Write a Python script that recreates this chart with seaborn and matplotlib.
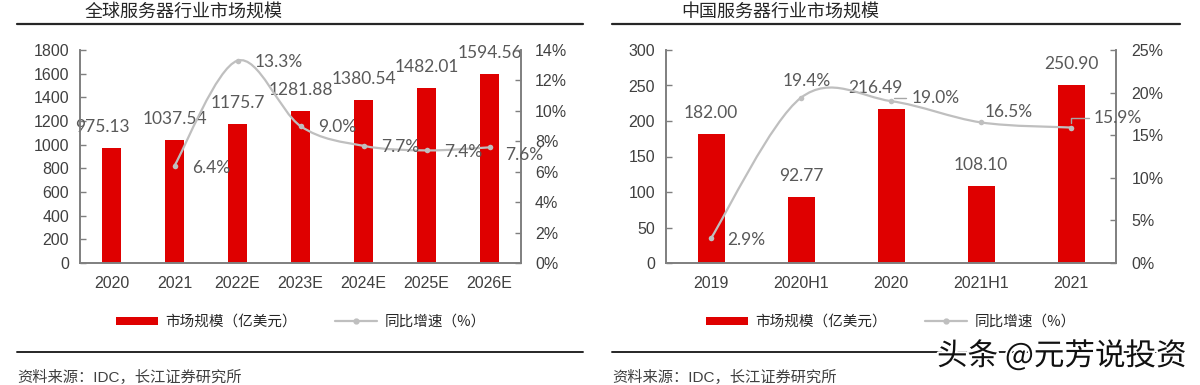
import numpy as np
import pandas as pd
import matplotlib
matplotlib.use("Agg")
import matplotlib.pyplot as plt
import seaborn as sns
from matplotlib.path import Path
from matplotlib.patches import PathPatch, Patch
from matplotlib.lines import Line2D
import matplotlib.patheffects as pe

# ---------------- data ----------------
global_years = ["2020", "2021", "2022E", "2023E", "2024E", "2025E", "2026E"]
global_size = [975.13, 1037.54, 1175.7, 1281.88, 1380.54, 1482.01, 1594.56]
global_growth = [None, 6.4, 13.3, 9.0, 7.7, 7.4, 7.6]
global_size_labels = ["975.13", "1037.54", "1175.7", "1281.88", "1380.54", "1482.01", "1594.56"]

china_periods = ["2019", "2020H1", "2020", "2021H1", "2021"]
china_size = [182.00, 92.77, 216.49, 108.10, 250.90]
china_growth = [2.9, 19.4, 19.0, 16.5, 15.9]
china_size_labels = ["182.00", "92.77", "216.49", "108.10", "250.90"]

left_title = "全球服务器行业市场规模"
right_title = "中国服务器行业市场规模"
legend_bar = "市场规模（亿美元）"
legend_line = "同比增速（%）"
source_text = "资料来源：IDC，长江证券研究所"
watermark = "头条 @元芳说投资"

# ---------------- style ----------------
sns.set_style("white")
CJK = ["Noto Sans CJK SC", "DejaVu Sans"]
MIXED = ["Liberation Sans", "Noto Sans CJK SC", "DejaVu Sans"]
LBL = ["Lato", "DejaVu Sans"]
plt.rcParams["font.family"] = MIXED

RED = "#DF0000"
GRAY_LINE = "#BFBFBF"
LABEL_COL = "#595959"
TICK_COL = "#404040"
SPINE_COL = "#7F7F7F"

W, H = 1200, 385
fig = plt.figure(figsize=(W / 100, H / 100), dpi=100)


def fx(px):
    return px / W


def fy(py):
    return 1 - py / H


def smooth_path(xs, ys):
    """Catmull-Rom style smooth Bezier path through the data points (Excel 'smoothed line')."""
    xs = np.asarray(xs, float)
    ys = np.asarray(ys, float)
    n = len(xs)
    verts = [(xs[0], ys[0])]
    codes = [Path.MOVETO]
    for i in range(n - 1):
        p0 = i - 1 if i > 0 else i
        p3 = i + 2 if i + 2 < n else i + 1
        c1 = (xs[i] + (xs[i + 1] - xs[p0]) / 6, ys[i] + (ys[i + 1] - ys[p0]) / 6)
        c2 = (xs[i + 1] - (xs[p3] - xs[i]) / 6, ys[i + 1] - (ys[p3] - ys[i]) / 6)
        verts += [c1, c2, (xs[i + 1], ys[i + 1])]
        codes += [Path.CURVE4] * 3
    return Path(verts, codes)


def panel(ax_rect, cats, sizes, size_labels, growth, ymax, ystep, gmax, gstep,
          bar_w, ypad, gpad, bar_dx, g_offsets, leaders):
    ax = fig.add_axes(ax_rect)
    df = pd.DataFrame({"cat": cats, "size": sizes})
    sns.barplot(data=df, x="cat", y="size", color=RED, width=bar_w, ax=ax,
                saturation=1, edgecolor="none")
    n = len(cats)
    ax.set_xlim(-0.5, n - 0.5)
    ax.set_ylim(0, ymax)
    ax.set_yticks(np.arange(0, ymax + 1, ystep))
    ax.set_xlabel("")
    ax.set_ylabel("")
    ax.spines["top"].set_visible(False)
    for s in ["left", "bottom", "right"]:
        ax.spines[s].set_color(SPINE_COL)
        ax.spines[s].set_linewidth(1.2)
    ax.tick_params(axis="x", which="major", length=0, pad=9, labelsize=11.5, colors=TICK_COL)
    ax.set_xticks(np.arange(-0.5, n, 1.0), minor=True)
    ax.tick_params(axis="x", which="minor", direction="in", length=5, width=1, color=SPINE_COL)
    ax.tick_params(axis="y", direction="in", length=4, width=1, color=SPINE_COL,
                   pad=ypad, labelsize=11.5, labelcolor=TICK_COL)

    # bar value labels
    for i, (v, lab) in enumerate(zip(sizes, size_labels)):
        ax.annotate(lab, xy=(i, v), xytext=(bar_dx.get(i, 0), 15), textcoords="offset points",
                    ha="center", va="center", fontsize=12.5, color=LABEL_COL,
                    family=LBL, zorder=6, annotation_clip=False)

    # growth line on twin axis
    ax2 = ax.twinx()
    idx = [i for i, g in enumerate(growth) if g is not None]
    gv = [growth[i] for i in idx]
    ax2.add_patch(PathPatch(smooth_path(idx, gv), facecolor="none", edgecolor=GRAY_LINE,
                            lw=1.6, zorder=3, capstyle="round"))
    gdf = pd.DataFrame({"x": idx, "g": gv})
    sns.scatterplot(data=gdf, x="x", y="g", ax=ax2, color=GRAY_LINE, s=16,
                    linewidth=0, zorder=4)
    ax2.set_xlim(-0.5, n - 0.5)
    ax2.set_ylim(0, gmax)
    ticks = np.arange(0, gmax + 0.01, gstep)
    ax2.set_yticks(ticks)
    ax2.set_yticklabels([f"{int(t)}%" for t in ticks])
    ax2.set_xlabel("")
    ax2.set_ylabel("")
    ax2.spines["top"].set_visible(False)
    for s in ["left", "bottom", "right"]:
        ax2.spines[s].set_color(SPINE_COL)
        ax2.spines[s].set_linewidth(1.2)
    ax2.tick_params(axis="y", direction="in", length=4, width=1, color=SPINE_COL,
                    pad=gpad, labelsize=11.5, labelcolor=TICK_COL)

    for i in idx:
        dx, dy, ha = g_offsets[i]
        kw = {}
        if i in leaders:
            kw["arrowprops"] = dict(arrowstyle="-", color="#A6A6A6", lw=1.0,
                                    connectionstyle="angle,angleA=0,angleB=90,rad=0",
                                    shrinkA=1, shrinkB=3)
        ax2.annotate(f"{growth[i]:.1f}%", xy=(i, growth[i]), xytext=(dx, dy),
                     textcoords="offset points", ha=ha, va="center", fontsize=12.5,
                     color=LABEL_COL, family=LBL, zorder=6, annotation_clip=False, **kw)

    handles = [Patch(facecolor=RED, edgecolor="none"),
               Line2D([], [], color=GRAY_LINE, lw=1.6, marker="o", markersize=3.5)]
    leg = ax.legend(handles, [legend_bar, legend_line], loc="center",
                    bbox_to_anchor=(0.5, (263 - 322) / 213), ncol=2, frameon=False,
                    prop={"family": CJK, "size": 10.5}, handlelength=2.9, handleheight=0.45,
                    handletextpad=0.5, columnspacing=2.6)
    for t in leg.get_texts():
        t.set_color("#262626")
    return ax, ax2


# left panel
panel([fx(80), fy(263), fx(521) - fx(80), fy(50) - fy(263)],
      global_years, global_size, global_size_labels, global_growth,
      1800, 200, 14, 2, 0.29, 8, 10, {0: -6.5},
      {1: (13, -1.5, "left"), 2: (12, -1, "left"), 3: (13, -1, "left"),
       4: (13, -1, "left"), 5: (13, -1, "left"), 6: (11, -5.5, "left")},
      set())

# right panel
panel([fx(666), fy(263), fx(1116) - fx(666), fy(50) - fy(263)],
      china_periods, china_size, china_size_labels, china_growth,
      300, 50, 25, 5, 0.3, 8, 11, {2: -11},
      {0: (11.5, -1.5, "left"), 1: (4, 12, "center"), 2: (14.5, 2.2, "left"),
       3: (20, 7.5, "center"), 4: (16, 6.8, "left")},
      {2, 4})

# titles, rules, sources
for x0, x1, tx, title in [(17, 583, 85, left_title), (612, 1180, 681, right_title)]:
    fig.text(fx(tx), fy(12), title, fontsize=13, color="#262626", ha="left", va="center",
             family=CJK)
    fig.add_artist(Line2D([fx(x0), fx(x1)], [fy(24), fy(24)], color="#262626", lw=1.6))
    fig.add_artist(Line2D([fx(x0), fx(x1)], [fy(352), fy(352)], color="#262626", lw=1.4))
    fig.text(fx(x0), fy(377), source_text, fontsize=11, color="#404040", ha="left",
             va="center", family=MIXED)

fig.text(fx(937), fy(356), watermark, fontsize=22, color="#111111", ha="left", va="center",
         family=CJK, zorder=10,
         path_effects=[pe.withStroke(linewidth=3, foreground="white")])

fig.savefig("out.png", dpi=100, facecolor="white")
